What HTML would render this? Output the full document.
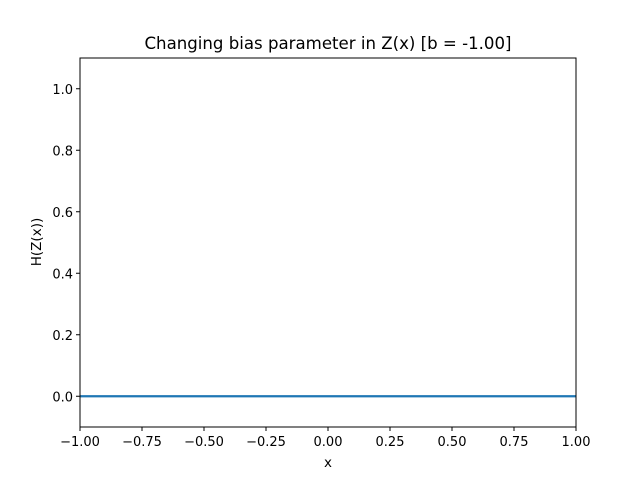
<!DOCTYPE html>
<html><head><meta charset="utf-8"><style>
body{margin:0;background:#fff;}
svg{display:block;font-family:"DejaVu Sans","Liberation Sans",sans-serif;}
</style></head><body>
<svg id="chart" width="640" height="480">
<rect width="640" height="480" fill="#fff"/>
<text x="328" y="49" font-size="16.6" text-anchor="middle">Changing bias parameter in Z(x) [b = -1.00]</text>
<g id="ticks"></g>
<polyline id="series" fill="none" stroke="#1f77b4" stroke-width="2.2"/>
<rect x="80" y="58" width="496" height="369" fill="none" stroke="#000" stroke-width="1"/>
<text x="328" y="467" font-size="13.5" text-anchor="middle">x</text>
<text transform="translate(41,242) rotate(-90)" font-size="13.5" text-anchor="middle">H(Z(x))</text>
</svg>
<script>
const xTicks=[-1,-0.75,-0.5,-0.25,0,0.25,0.5,0.75,1];
const xTickLabels=["−1.00","−0.75","−0.50","−0.25","0.00","0.25","0.50","0.75","1.00"];
const yTicks=[0,0.2,0.4,0.6,0.8,1.0];
const yTickLabels=["0.0","0.2","0.4","0.6","0.8","1.0"];
const xValues=[-1,-0.5,0,0.5,1];
const yValues=[0,0,0,0,0];
const X0=80,X1=576,Y0=427,Y1=58;
const sx=v=>X0+(v-(-1))/(2)*(X1-X0);
const sy=v=>Y0-(v-(-0.1))/(1.2)*(Y0-Y1);
const NS="http://www.w3.org/2000/svg";
const g=document.getElementById('ticks');
xTicks.forEach((t,i)=>{
 const l=document.createElementNS(NS,'line');
 l.setAttribute('x1',sx(t));l.setAttribute('x2',sx(t));l.setAttribute('y1',Y0);l.setAttribute('y2',Y0+4);l.setAttribute('stroke','#000');
 
 
 g.appendChild(l);
 const tx=document.createElementNS(NS,'text');
 tx.setAttribute('x',sx(t));tx.setAttribute('y',Y0+19);tx.setAttribute('font-size','13');tx.setAttribute('text-anchor','middle');
 tx.textContent=xTickLabels[i];
 
 
 g.appendChild(tx);
});
yTicks.forEach((t,i)=>{
 const l=document.createElementNS(NS,'line');
 l.setAttribute('x1',X0-4);l.setAttribute('x2',X0);l.setAttribute('y1',sy(t));l.setAttribute('y2',sy(t));l.setAttribute('stroke','#000');
 
 
 g.appendChild(l);
 const tx=document.createElementNS(NS,'text');
 tx.setAttribute('x',X0-7);tx.setAttribute('y',sy(t)+5);tx.setAttribute('font-size','13');tx.setAttribute('text-anchor','end');
 tx.textContent=yTickLabels[i];
 
 
 g.appendChild(tx);
});
document.getElementById('series').setAttribute('points',xValues.map((x,i)=>sx(x)+','+sy(yValues[i])).join(' '));
</script>
</body></html>
